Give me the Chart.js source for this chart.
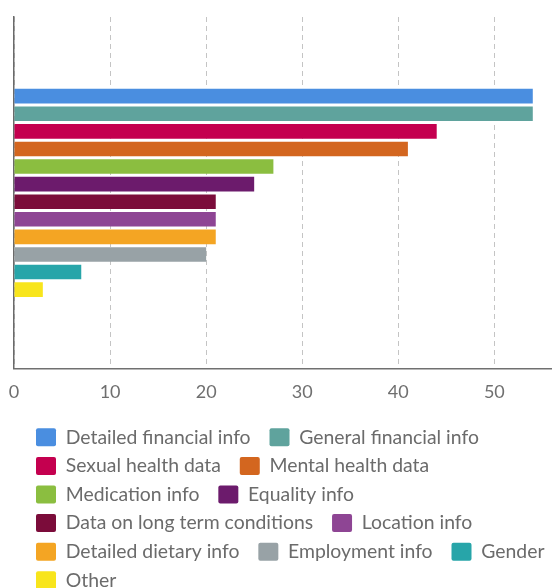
<!DOCTYPE html>
<html>
<head>
<meta charset="utf-8">
<script src="https://cdn.jsdelivr.net/npm/chart.js@4/dist/chart.umd.min.js"></script>
<style>
  html, body { margin: 0; padding: 0; background: #fff; overflow: hidden; }
  #wrap { position: relative; width: 552px; height: 600px; }
</style>
</head>
<body>
<div id="wrap"><canvas id="c"></canvas></div>
<script>
const categories = [''];
const seriesNames = [
  'Detailed financial info', 'General financial info',
  'Sexual health data', 'Mental health data',
  'Medication info', 'Equality info',
  'Data on long term conditions', 'Location info',
  'Detailed dietary info', 'Employment info', 'Gender',
  'Other'
];
const seriesValues = [54, 54, 44, 41, 27, 25, 21, 21, 21, 20, 7, 3];
const seriesColors = [
  '#4a8ee0', '#5fa39d', '#c4004f', '#d3661f', '#8bbe40', '#6c1b6c',
  '#7b0c3a', '#8e4594', '#f4a523', '#98a2a6', '#27a5a9', '#f8e51c'
];
const xTicks = [0, 10, 20, 30, 40, 50];

Chart.defaults.font.family = 'Lato';

const legendShift = {
  id: 'legendShift',
  afterLayout(chart) {
    if (chart.legend) {
      chart.legend.left += 26.8;
      chart.legend.right += 26.8;
    }
  }
};

new Chart(document.getElementById('c'), {
  type: 'bar',
  data: {
    labels: categories,
    datasets: seriesNames.map((name, i) => ({
      label: name,
      data: [seriesValues[i]],
      backgroundColor: seriesColors[i],
      borderWidth: 0,
      categoryPercentage: 0.6,
      barPercentage: 0.83
    }))
  },
  options: {
    indexAxis: 'y',
    responsive: true,
    maintainAspectRatio: false,
    animation: false,
    layout: { padding: { left: 0, top: 17, right: 0, bottom: 0 } },
    scales: {
      x: {
        min: 0,
        max: 56,
        afterBuildTicks(scale) {
          scale.ticks = xTicks.map(v => ({ value: v }));
        },
        afterFit(scale) {
          scale.paddingLeft = 0;
          scale.paddingRight = 0;
          scale.height += 2;
        },
        grid: { color: '#c4c4c4', lineWidth: 1, drawTicks: false },
        border: { display: true, color: '#707070', width: 1.5, dash: [5, 4] },
        ticks: { color: '#6f6f6f', font: { size: 18 }, padding: 13, maxRotation: 0 }
      },
      y: {
        afterFit(scale) { scale.width = 14; },
        grid: { display: false, drawTicks: false },
        border: { display: true, color: '#6a6a6a', width: 1.5 },
        ticks: { display: false }
      }
    },
    plugins: {
      legend: {
        position: 'bottom',
        align: 'start',
        labels: {
          boxWidth: 20,
          boxHeight: 18,
          padding: 9.2,
          color: '#6b6b6b',
          font: { size: 19.4 },
          useBorderRadius: true,
          borderRadius: 2,
          generateLabels(chart) {
            return Chart.defaults.plugins.legend.labels.generateLabels(chart)
              .map(item => Object.assign(item, { text: item.text + '\u2002' }));
          }
        }
      },
      tooltip: { enabled: false }
    }
  },
  plugins: [legendShift]
});
</script>
</body>
</html>
